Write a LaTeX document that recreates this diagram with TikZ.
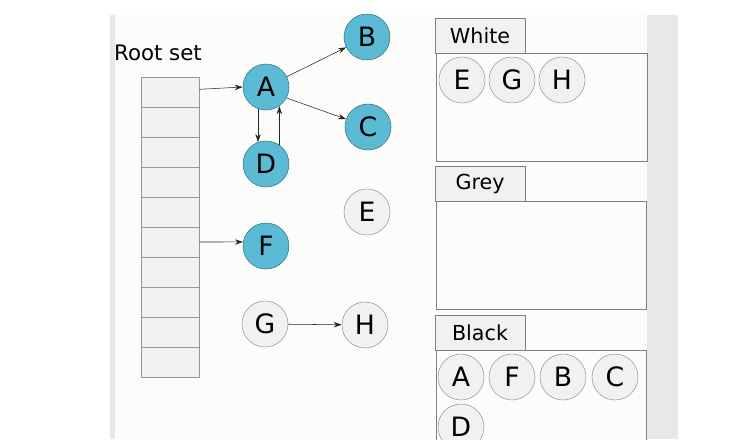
\documentclass[tikz,border=0pt]{standalone}
\usepackage{fontspec}
\setmainfont{DejaVu Sans}
\usetikzlibrary{arrows.meta}
\definecolor{azul}{RGB}{91,187,212}
\definecolor{gris}{RGB}{240,241,240}
\definecolor{borde}{RGB}{150,150,150}
\definecolor{marco}{RGB}{128,128,128}
\definecolor{fondo}{RGB}{252,252,250}
\definecolor{barra}{RGB}{232,232,232}

\begin{document}
\begin{tikzpicture}[x = 0.75pt, y = -0.75pt,
		obj/.style = {circle, draw = borde, fill = gris, minimum size = 34.5pt, inner sep = 0pt, font = \fontsize{20}{24}\selectfont},
		vivo/.style = {obj, fill = azul, draw = azul!60!black},
		celda/.style = {draw = borde, fill = gris, minimum width = 43.5pt, minimum height = 22.5pt, inner sep = 0pt},
		pestana/.style = {draw = marco, fill = gris, minimum width = 67.5pt, minimum height = 26pt, inner sep = 0pt, font = \fontsize{15.5}{18}\selectfont},
		ref/.style = {-{Stealth[length = 6pt, width = 4pt]}, thin, black!85}]
						\useasboundingbox (0,0) rectangle (748,439);
						\fill[white] (0,0) rectangle (748,439);
						\fill[fondo] (115,15) rectangle (647,439);
						\fill[barra] (110,15) rectangle (115,439);
						\fill[barra] (647,15) rectangle (678,439);
						\node[font = \fontsize{16}{19}\selectfont] (rootset) at (158,53) {Root set};
						\foreach \i in {1,...,10}
							\node[celda] (c\i) at (170, 62 + 30*\i) {};
						\node[vivo] (A) at (266,87) {A};
						\node[vivo] (B) at (367,37) {B};
						\node[vivo] (C) at (368,127) {C};
						\node[vivo] (D) at (266,164) {D};
						\node[obj] (E) at (367,212) {E};
						\node[vivo] (F) at (266,246) {F};
						\node[obj] (G) at (265,324) {G};
						\node[obj] (H) at (365,325) {H};
						\draw[ref] ([yshift = 2pt]c1.east) -- (A.west);
						\draw[ref] (c6.east) -- (F.170);
						\draw[ref] (A) -- (B);
						\draw[ref] (A.-28) -- (C);
						\draw[ref] (A.-110) -- (D.110);
						\draw[ref] (D.55) -- (A.-55);
						\draw[ref] (G) -- (H);
						\node[pestana] (white) at (480,35.5) {White};
						\draw[marco] (436,53) rectangle (647,161);
						\node[obj] (wE) at (462,80) {E};
						\node[obj] (wG) at (512,80) {G};
						\node[obj] (wH) at (562,80) {H};
						\node[pestana] (grey) at (480,184) {Grey};
						\draw[marco] (436,201) rectangle (646,309);
						\node[pestana] (black) at (480,333) {Black};
						\draw[marco] (436,445) -- (436,350) -- (646,350) -- (646,445);
						\node[obj] (bA) at (461,377) {A};
						\node[obj] (bF) at (512,377) {F};
						\node[obj] (bB) at (563,377) {B};
						\node[obj] (bC) at (615,377) {C};
						\node[obj] (bD) at (461,427) {D};
					\end{tikzpicture}
\end{document}
